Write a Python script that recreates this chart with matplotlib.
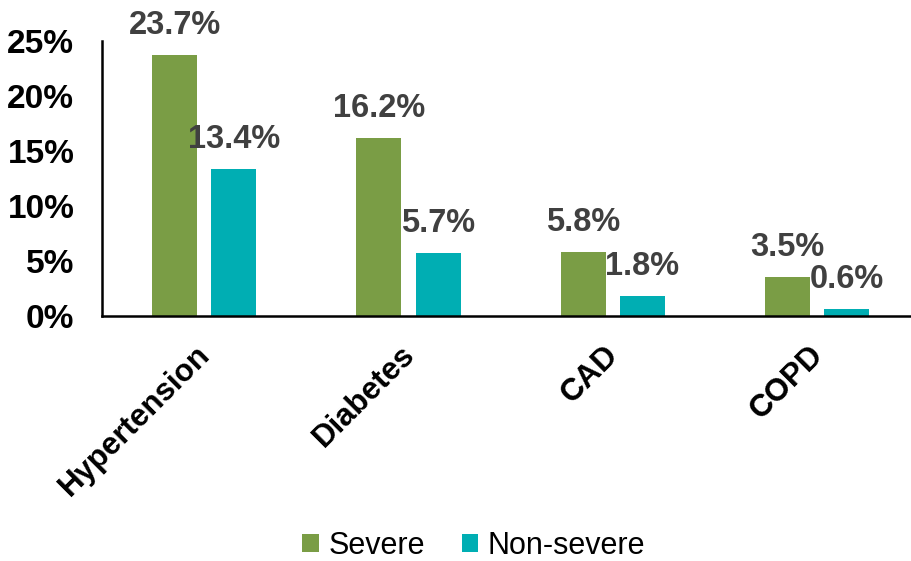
import numpy as np
import matplotlib.pyplot as plt
import matplotlib.transforms as mtransforms
from matplotlib.ticker import FuncFormatter

plt.rcParams['font.family'] = ['Liberation Sans', 'DejaVu Sans']

categories = ["Hypertension", "Diabetes", "CAD", "COPD"]
severe = [23.7, 16.2, 5.8, 3.5]
non_severe = [13.4, 5.7, 1.8, 0.6]

green = "#7A9D45"
teal = "#00AEB3"

fig = plt.figure(figsize=(9.11, 5.61), dpi=100)
ax = fig.add_axes([0.112, 0.437, 0.888, 0.49])

x = np.arange(len(categories))
w = 0.22
b1 = ax.bar(x - 0.145, severe, w, color=green, label="Severe")
b2 = ax.bar(x + 0.145, non_severe, w, color=teal, label="Non-severe")

# value labels above each bar
for bars, vals in ((b1, severe), (b2, non_severe)):
    for rect, v in zip(bars, vals):
        ax.annotate(f"{v}%", (rect.get_x() + rect.get_width() / 2, v),
                    xytext=(0, 10), textcoords="offset points",
                    ha="center", va="bottom", fontsize=23.5,
                    fontweight="bold", color="#404040")

ax.set_ylim(0, 25)
ax.set_xlim(-0.5, 3.46)
ax.set_yticks(np.arange(0, 26, 5))
ax.yaxis.set_major_formatter(FuncFormatter(lambda v, p: f"{v:.0f}%"))
ax.set_xticks(x)
ax.set_xticklabels(categories, rotation=45, ha="right", va="top",
                   rotation_mode="anchor", fontsize=22.5)
ax.tick_params(axis="y", length=0, labelsize=24, pad=20)
ax.tick_params(axis="x", length=0, pad=10)
shift = mtransforms.ScaledTranslation(-0.09, -0.10, fig.dpi_scale_trans)
for lab in ax.get_xticklabels():
    lab.set_fontweight("bold")
    lab.set_transform(lab.get_transform() + shift)
for lab in ax.get_yticklabels():
    lab.set_fontweight("bold")

for s in ("top", "right"):
    ax.spines[s].set_visible(False)
for s in ("left", "bottom"):
    ax.spines[s].set_linewidth(1.8)
    ax.spines[s].set_color("black")

fig.legend(handles=[b1, b2], loc="center", bbox_to_anchor=(0.52, 0.027),
           ncol=2, frameon=False, fontsize=22, handlelength=0.55,
           handleheight=0.55, handletextpad=0.3, columnspacing=1.2)

fig.savefig("out.png", dpi=100)
